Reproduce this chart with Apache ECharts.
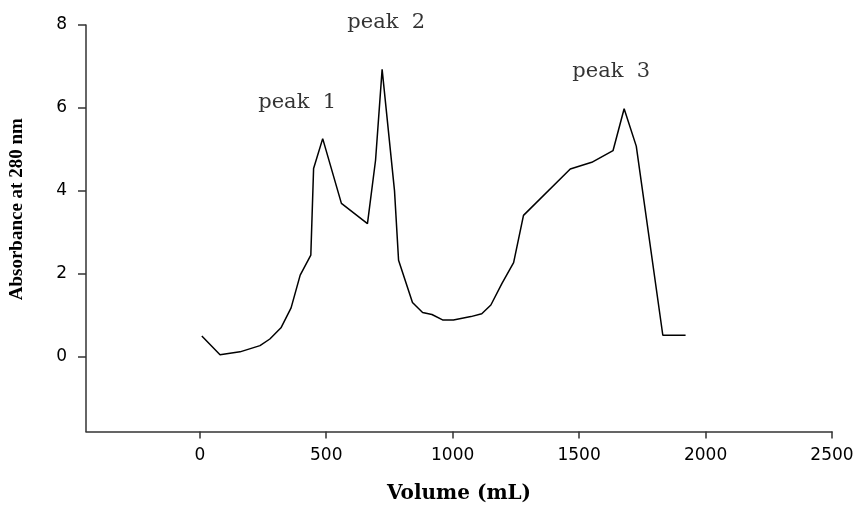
<!DOCTYPE html>
<html>
<head>
<meta charset="utf-8">
<script src="https://cdn.jsdelivr.net/npm/echarts@6/dist/echarts.min.js"></script>
<style>
  html, body { margin: 0; padding: 0; background: #fff; }
  #chart { width: 857px; height: 507px; }
</style>
</head>
<body>
<div id="chart"></div>
<script>
// Elution profile: volume (mL) vs absorbance at 280 nm
const volume = [8, 80, 159, 238, 277, 321, 361, 397, 439, 450, 486, 560, 663, 695, 721, 770, 786, 841, 881, 918, 960, 1003, 1072, 1115, 1151, 1195, 1241, 1280, 1465, 1550, 1634, 1678, 1726, 1831, 1921];
const absorbance = [0.50, 0.05, 0.12, 0.27, 0.43, 0.70, 1.18, 1.97, 2.45, 4.54, 5.26, 3.70, 3.21, 4.74, 6.93, 4.00, 2.33, 1.31, 1.07, 1.02, 0.89, 0.89, 0.97, 1.04, 1.25, 1.77, 2.27, 3.41, 4.53, 4.69, 4.97, 5.98, 5.08, 0.52, 0.52];

// Peak annotations, placed in data coordinates
const peakNames = ['peak  1', 'peak  2', 'peak  3'];
const peakLabelX = [385, 737, 1627];
const peakLabelY = [6.14, 8.07, 6.88];

const xTicks = [0, 500, 1000, 1500, 2000, 2500];
const yTicks = [0, 2, 4, 6, 8];

const chart = echarts.init(document.getElementById('chart'), null, { renderer: 'canvas' });

const axisLineStyle = { color: '#333', width: 1.5 };

chart.setOption({
  animation: false,
  backgroundColor: '#fff',
  grid: { left: 86, right: 25, top: 25, bottom: 75.5, containLabel: false, outerBoundsMode: 'none' },
  xAxis: {
    type: 'value',
    min: -450,
    max: 2500,
    splitLine: { show: false },
    axisLine: { onZero: false, lineStyle: axisLineStyle },
    axisTick: { customValues: xTicks, length: 7, lineStyle: axisLineStyle },
    axisLabel: {
      customValues: xTicks,
      formatter: v => String(v),
      margin: 16,
      color: '#000',
      fontFamily: 'DejaVu Sans',
      fontSize: 17
    },
    name: 'Volume (mL)',
    nameLocation: 'middle',
    nameGap: 52,
    nameTextStyle: {
      fontFamily: 'DejaVu Serif',
      fontWeight: 'bold',
      fontSize: 20,
      color: '#000'
    }
  },
  yAxis: {
    type: 'value',
    min: -1.8,
    max: 8,
    splitLine: { show: false },
    axisLine: { onZero: false, lineStyle: axisLineStyle },
    axisTick: { customValues: yTicks, length: 8, lineStyle: axisLineStyle },
    axisLabel: {
      customValues: yTicks,
      formatter: v => String(v),
      margin: 19,
      color: '#000',
      fontFamily: 'DejaVu Sans',
      fontSize: 17
    },
    name: 'Absorbance at 280 nm',
    nameLocation: 'middle',
    nameGap: 59,
    nameRotate: 90,
    nameTextStyle: {
      fontFamily: 'Liberation Serif',
      fontWeight: 'bold',
      fontSize: 19,
      color: '#000',
      padding: [0, 0, 0, 38]
    }
  },
  series: [
    {
      type: 'line',
      data: volume.map((v, i) => [v, absorbance[i]]),
      showSymbol: false,
      symbol: 'none',
      lineStyle: { color: '#000', width: 1.5 },
      clip: false
    },
    {
      type: 'scatter',
      data: peakLabelX.map((v, i) => ({ value: [v, peakLabelY[i]], name: peakNames[i] })),
      symbolSize: 0,
      clip: false,
      silent: true,
      label: {
        show: true,
        position: 'inside',
        formatter: p => p.name,
        fontFamily: 'DejaVu Serif',
        fontSize: 21,
        color: '#000'
      }
    }
  ]
});
</script>
</body>
</html>
